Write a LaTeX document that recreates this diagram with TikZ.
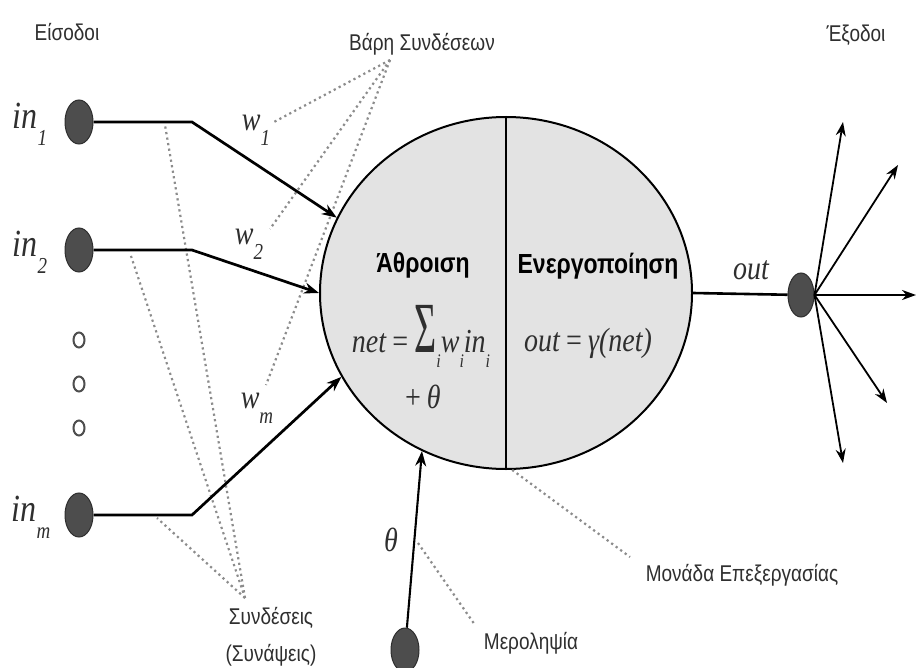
\documentclass[tikz,border=0pt]{standalone}
\usepackage{fontspec}
\setmainfont{Liberation Sans}
\newfontfamily\tms{Liberation Serif}
\usetikzlibrary{shapes.geometric,arrows.meta}
\definecolor{dotfill}{HTML}{4D4D4D}
\definecolor{dotedge}{HTML}{2E2E2E}
\definecolor{cellfill}{HTML}{E3E3E3}
\definecolor{txt}{HTML}{2F2F2F}
\definecolor{dotline}{HTML}{8C8C8C}
\newcommand\vs[1]{\scalebox{1}[1.2]{#1}}
\newcommand\sub[1]{\raisebox{-0.45em}{\fontsize{19}{19}\selectfont #1}}
\newcommand\subi[1]{\raisebox{-0.45em}{\fontsize{16}{16}\selectfont #1}}
\begin{document}
\begin{tikzpicture}[x=1pt,y=-1pt,
  indot/.style={ellipse,fill=dotfill,draw=dotedge,line width=1pt,minimum width=28pt,minimum height=44pt,inner sep=0pt},
  gapdot/.style={ellipse,draw=txt!85,line width=2pt,minimum width=11pt,minimum height=15pt,inner sep=0pt},
  lbl/.style={text=txt,inner sep=0pt,font=\fontsize{19}{22}\selectfont},
  boldlbl/.style={text=black,inner sep=0pt,font=\bfseries\fontsize{23}{26}\selectfont},
  mth/.style={text=txt,inner sep=0pt,font=\tms\itshape\fontsize{28}{30}\selectfont},
  conn/.style={line width=2.7pt,-{Stealth[length=15pt,width=11pt]}},
  fan/.style={line width=1.8pt,-{Stealth[length=14pt,width=10pt]}},
  pointer/.style={draw=dotline,line width=2.2pt,dash pattern=on 2.2pt off 3.4pt},
]
\useasboundingbox[fill=white] (0,0) rectangle (917,668);

% pointer coordinates
\coordinate (pW) at (390,60);
\coordinate (wA) at (274,122);
\coordinate (wB) at (270,229);
\coordinate (wC) at (266,385);
\coordinate (pS) at (245,598);
\coordinate (sA) at (165,125);
\coordinate (sB) at (130,253);
\coordinate (sC) at (157,518);
\coordinate (pM) at (630,557);
\coordinate (pB) at (475,625);
\coordinate (pB0) at (418,543);

\draw[pointer] (pW) -- (wA);
\draw[pointer] (pW) -- (wB);
\draw[pointer] (pW) -- (wC);
\draw[pointer] (pS) -- (sA);
\draw[pointer] (pS) -- (sB);
\draw[pointer] (pS) -- (sC);
\draw[pointer] (pB0) -- (pB);

% neuron
\node[ellipse,draw,line width=2pt,fill=cellfill,minimum width=372pt,minimum height=352pt,inner sep=0pt] (neuron) at (506,293) {};
\draw[line width=1.8pt] (neuron.north) -- (neuron.south);
\draw[pointer] (neuron.272) -- (pM);

% input dots
\node[indot] (in1) at (79,122) {};
\node[indot] (in2) at (79,250) {};
\node[indot] (inm) at (79,515) {};
\node[gapdot] (g1) at (79,340) {};
\node[gapdot] (g2) at (79,384) {};
\node[gapdot] (g3) at (79,428) {};
\node[indot] (bias) at (405,650) {};
\node[indot,minimum width=26pt] (outdot) at (801,295) {};

% input connectors
\coordinate (b1) at (192,122);
\coordinate (b2) at (192,250);
\coordinate (bm) at (192,515);
\draw[conn] (in1) -- (b1) -- (neuron.156);
\draw[conn] (in2) -- (b2) -- (neuron.180);
\draw[conn] (inm) -- (bm) -- (neuron.207);
\draw[conn,line width=2.1pt] (bias) -- (neuron.242);

% output
\draw[line width=2.6pt] (neuron.0) -- (outdot);
\coordinate (o1) at (843,122);
\coordinate (o2) at (898,165);
\coordinate (o3) at (916,295);
\coordinate (o4) at (887,403);
\coordinate (o5) at (843,463);
\draw[fan] (outdot.east) -- (o1);
\draw[fan] (outdot.east) -- (o2);
\draw[fan,line width=2.5pt] (outdot.east) -- (o3);
\draw[fan] (outdot.east) -- (o4);
\draw[fan] (outdot.east) -- (o5);

% labels
\node[lbl] (tIn) at (67,32) {\vs{Είσοδοι}};
\node[lbl] (tW) at (422,44) {\vs{Βάρη Συνδέσεων}};
\node[lbl] (tOut) at (856,35) {\vs{Έξοδοι}};
\node[mth,font=\tms\itshape\fontsize{32}{32}\selectfont] (l1) at (30,124) {\vs{in\sub{1}}};
\node[mth,font=\tms\itshape\fontsize{32}{32}\selectfont] (l2) at (30,252) {\vs{in\sub{2}}};
\node[mth,font=\tms\itshape\fontsize{32}{32}\selectfont] (lm) at (31,517) {\vs{in\sub{m}}};
\node[mth] (w1) at (256,130) {\vs{w\sub{1}}};
\node[mth] (w2) at (249,244) {\vs{w\sub{2}}};
\node[mth] (wm) at (257,408) {\vs{w\sub{m}}};
\node[boldlbl] (tSum) at (423,265) {\vs{Άθροιση}};
\node[boldlbl] (tAct) at (598,266) {\vs{Ενεργοποίηση}};
\node[mth] (fNet) at (421,336) {\vs{net\,=\,{\upshape\fontsize{40}{40}\selectfont\scalebox{0.95}[1.5]{Σ}}\subi{i}w\subi{i}in\subi{i}}};
\node[mth] (fTh) at (422,397) {\vs{+\,θ}};
\node[mth] (fOut) at (588,343) {\vs{out\,=\,γ(net)}};
\node[mth] (lOut) at (751,270) {\vs{out}};
\node[mth] (lTh) at (391,540) {\vs{θ}};
\node[lbl] (tSyn) at (271,618) {\vs{Συνδέσεις}};
\node[lbl] (tSyn2) at (271,655) {\vs{(Συνάψεις)}};
\node[lbl] (tUnit) at (742,575) {\vs{Μονάδα Επεξεργασίας}};
\node[lbl] (tBias) at (531,643) {\vs{Μεροληψία}};
\end{tikzpicture}
\end{document}
